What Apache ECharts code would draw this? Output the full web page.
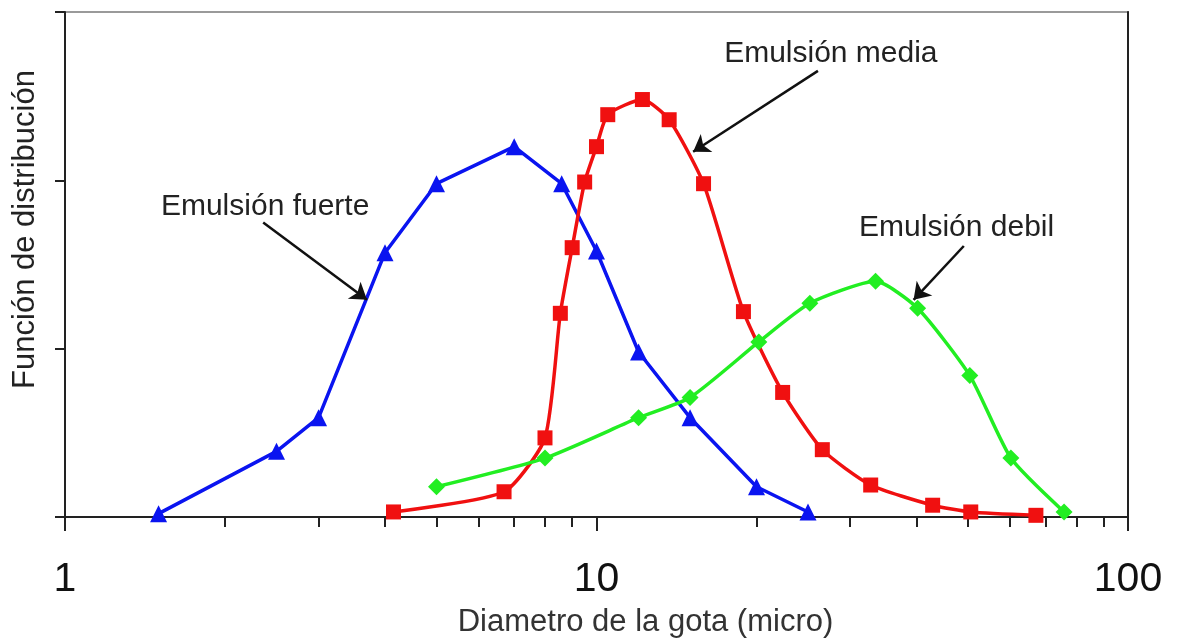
<!DOCTYPE html>
<html>
<head>
<meta charset="utf-8">
<script src="https://cdn.jsdelivr.net/npm/echarts@6/dist/echarts.min.js"></script>
<style>
html,body{margin:0;padding:0;background:#fff;}
#chart{width:1178px;height:639px;}
</style>
</head>
<body>
<div id="chart"></div>
<script>
// Data (diameter in micro, distribution function in arbitrary units)
const fuerteX = [1.5, 2.5, 3.0, 4.0, 5.0, 7.0, 8.6, 10.0, 12.0, 15.0, 20.0, 25.0];
const fuerteY = [0.02, 0.39, 0.59, 1.57, 1.98, 2.2, 1.98, 1.58, 0.98, 0.59, 0.18, 0.03];

const mediaX = [4.15, 6.7, 8.0, 8.55, 9.0, 9.5, 10.0, 10.5, 12.2, 13.7, 15.9, 18.9, 22.4, 26.6, 32.8, 42.9, 50.6, 67.1];
const mediaY = [0.03, 0.15, 0.47, 1.21, 1.6, 1.99, 2.2, 2.39, 2.48, 2.36, 1.98, 1.22, 0.74, 0.40, 0.19, 0.07, 0.03, 0.01];

const debilX = [5.0, 8.0, 12.0, 15.0, 20.2, 25.2, 33.5, 40.2, 50.4, 60.2, 75.8];
const debilY = [0.18, 0.35, 0.59, 0.71, 1.04, 1.27, 1.40, 1.24, 0.84, 0.35, 0.03];

const xMajorTicks = [1, 10, 100];
const xMinorTicks = [2, 3, 4, 5, 6, 7, 8, 9, 20, 30, 40, 50, 60, 70, 80, 90];

const xTitle = 'Diametro de la gota (micro)';
const yTitle = 'Función de distribución';

// Annotations (data coordinates)
const annLabels = ['Emulsión fuerte', 'Emulsión media', 'Emulsión debil'];
const annText = [[2.38, 1.845], [27.6, 2.75], [47.6, 1.72]];
const annFrom = [[2.36, 1.75], [26.1, 2.65], [49.1, 1.61]];
const annTo = [[3.70, 1.29], [15.2, 2.17], [39.5, 1.29]];

const FONT = '"Liberation Sans", Arial, sans-serif';
const zip = (xs, ys) => xs.map((x, i) => [x, ys[i]]);

const chart = echarts.init(document.getElementById('chart'));
const option = {
  backgroundColor: '#fff',
  animation: false,
  grid: {left: 65, right: 50, top: 12, bottom: 122, containLabel: false, outerBoundsMode: 'none',
    show: true, borderColor: '#9a9a9a', borderWidth: 2},
  xAxis: [
    {
      type: 'log', logBase: 10, min: 1, max: 100,
      name: xTitle, nameLocation: 'middle', nameGap: 90,
      nameTextStyle: {fontFamily: FONT, fontSize: 31, color: '#333', padding: [0, 0, 0, 98]},
      axisLine: {show: true, lineStyle: {color: '#222', width: 2}},
      axisTick: {show: true, length: 14, inside: false, lineStyle: {color: '#222', width: 2}, customValues: xMajorTicks},
      axisLabel: {show: true, fontFamily: FONT, fontSize: 41, color: '#111', margin: 42, customValues: xMajorTicks,
        formatter: v => String(Math.round(v))},
      splitLine: {show: false}, minorTick: {show: false}
    },
    {
      type: 'log', logBase: 10, min: 1, max: 100, position: 'bottom',
      axisLine: {show: false},
      axisTick: {show: true, length: 10, inside: false, lineStyle: {color: '#222', width: 2}, customValues: xMinorTicks},
      axisLabel: {show: false},
      splitLine: {show: false}
    }
  ],
  yAxis: [
    {
      type: 'value', min: 0, max: 3, interval: 1,
      name: yTitle, nameLocation: 'middle', nameGap: 24, nameRotate: 90,
      nameTextStyle: {fontFamily: FONT, fontSize: 31, color: '#222', padding: [0, 0, 0, 70]},
      axisLine: {show: true, lineStyle: {color: '#222', width: 2}},
      axisTick: {show: true, length: 10, lineStyle: {color: '#222', width: 2}},
      axisLabel: {show: false},
      splitLine: {show: false}
    },
    {
      type: 'value', min: 0, max: 3, interval: 1, position: 'right',
      axisLine: {show: true, lineStyle: {color: '#222', width: 2}},
      axisTick: {show: false}, axisLabel: {show: false}, splitLine: {show: false}
    }
  ],
  series: [
    {
      name: 'Emulsión fuerte', type: 'line', data: zip(fuerteX, fuerteY),
      symbol: 'triangle', symbolSize: 17, smooth: false,
      lineStyle: {color: '#0a14f0', width: 3.5}, itemStyle: {color: '#0a14f0'}, z: 3
    },
    {
      name: 'Emulsión media', type: 'line', data: zip(mediaX, mediaY),
      symbol: 'rect', symbolSize: 15, smooth: 0.2,
      lineStyle: {color: '#f01010', width: 3.5}, itemStyle: {color: '#f01010'}, z: 4
    },
    {
      name: 'Emulsión debil', type: 'line', data: zip(debilX, debilY),
      symbol: 'diamond', symbolSize: 17, smooth: 0.2,
      lineStyle: {color: '#22ee22', width: 3.5}, itemStyle: {color: '#22ee22'}, z: 5
    },
    {
      name: 'annotations', type: 'line', data: [], silent: true, z: 6,
      markLine: {
        silent: true, symbol: ['none', 'arrow'], symbolSize: 16,
        lineStyle: {color: '#111', width: 2.5, type: 'solid'},
        label: {show: false},
        data: annFrom.map((f, i) => [{coord: f, symbol: 'none'}, {coord: annTo[i], symbol: 'arrow'}])
      },
      markPoint: {
        silent: true, symbol: 'circle', symbolSize: 1, itemStyle: {color: 'rgba(0,0,0,0)'},
        label: {show: true, position: 'inside', fontFamily: FONT, fontSize: 30, color: '#222',
          formatter: p => p.name},
        data: annText.map((c, i) => ({name: annLabels[i], coord: c}))
      }
    }
  ]
};
chart.setOption(option);
</script>
</body>
</html>
